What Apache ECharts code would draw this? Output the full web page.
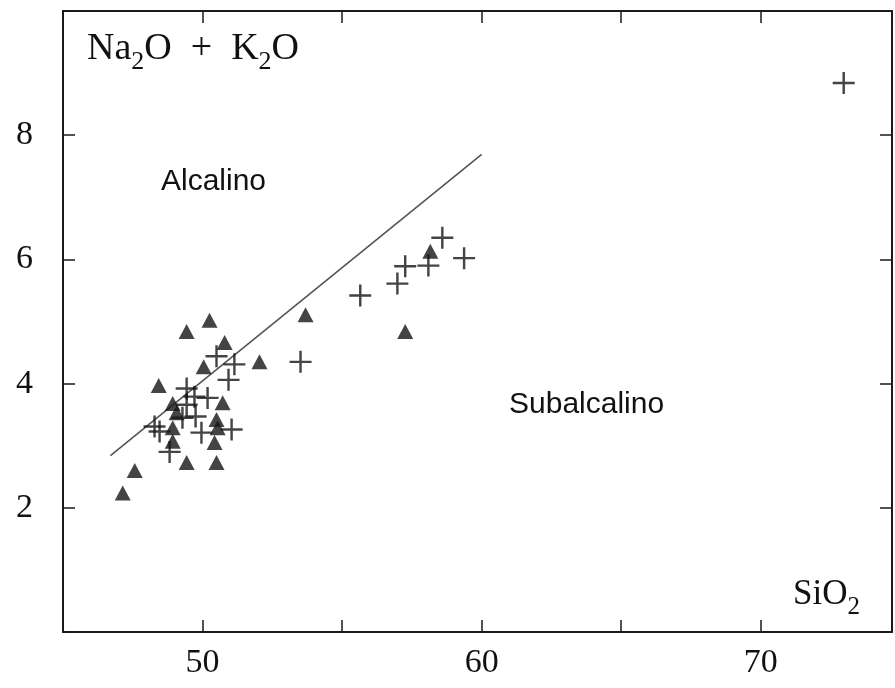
<!DOCTYPE html>
<html>
<head>
<meta charset="utf-8">
<script src="https://cdn.jsdelivr.net/npm/echarts@6/dist/echarts.min.js"></script>
<style>html,body{margin:0;padding:0;background:#fff;}#c{width:895px;height:688px;}</style>
</head>
<body>
<div id="c"></div>
<script>
// SiO2 (wt%), Na2O+K2O (wt%)
const triangles = [
  [47.14, 2.24], [47.57, 2.60], [48.43, 3.97], [48.93, 3.68], [49.07, 3.53],
  [48.93, 3.29], [48.93, 3.07], [49.43, 2.73], [49.43, 4.84], [50.25, 5.02],
  [50.79, 4.66], [50.04, 4.27], [50.72, 3.69], [50.50, 3.42], [50.54, 3.29],
  [50.43, 3.05], [50.50, 2.73], [52.04, 4.35], [53.69, 5.11], [57.26, 4.84],
  [58.16, 6.13]
];
const crosses = [
  [72.97, 8.84], [58.59, 6.35], [59.37, 6.02], [57.26, 5.89], [58.09, 5.90],
  [56.98, 5.61], [55.65, 5.42], [53.51, 4.35], [50.50, 4.44], [51.14, 4.31],
  [50.93, 4.06], [49.43, 3.92], [50.18, 3.77], [49.71, 3.79], [49.43, 3.66],
  [49.75, 3.47], [49.28, 3.45], [48.28, 3.31], [48.46, 3.23], [49.96, 3.21],
  [51.04, 3.26], [48.82, 2.90]
];
const divider = [[46.7, 2.84], [60.0, 7.69]];
const xTickLabels = [50, 60, 70];
const yTickLabels = [2, 4, 6, 8];

const serif = '"Liberation Serif", "DejaVu Serif", serif';
const sans = '"Liberation Sans", Arial, sans-serif';
const chart = echarts.init(document.getElementById('c'));
const axisCommon = {
  type: 'value',
  splitLine: { show: false },
  axisLine: { show: true, onZero: false, lineStyle: { color: '#1a1a1a', width: 2 } },
  axisTick: { show: true, inside: true, length: 12, lineStyle: { color: '#1a1a1a', width: 1.5 } }
};
chart.setOption({
  animation: false,
  backgroundColor: '#fff',
  grid: { left: 63, right: 2, top: 11, bottom: 56 },
  xAxis: [
    Object.assign({}, axisCommon, {
      position: 'bottom', min: 45, max: 74.7, interval: 5,
      axisLabel: { margin: 14, fontFamily: serif, fontSize: 34, color: '#111',
        formatter: v => xTickLabels.includes(v) ? String(v) : '' }
    }),
    Object.assign({}, axisCommon, {
      position: 'top', min: 45, max: 74.7, interval: 5,
      axisLabel: { show: false }
    })
  ],
  yAxis: [
    Object.assign({}, axisCommon, {
      position: 'left', min: 0, max: 10, interval: 2,
      axisLabel: { margin: 30, fontFamily: serif, fontSize: 34, color: '#111',
        formatter: v => yTickLabels.includes(v) ? String(v) : '' }
    }),
    Object.assign({}, axisCommon, {
      position: 'right', min: 0, max: 10, interval: 2,
      axisLabel: { show: false }
    })
  ],
  series: [
    {
      type: 'line', data: divider, symbol: 'none',
      lineStyle: { color: '#555', width: 1.6 }, z: 1
    },
    {
      type: 'scatter', data: triangles, symbol: 'triangle', symbolSize: [16, 15],
      itemStyle: { color: '#151515' }, z: 3
    },
    {
      type: 'scatter', data: crosses,
      symbol: 'path://M0,8.9L20,8.9L20,11.1L0,11.1Z M8.9,0L11.1,0L11.1,20L8.9,20Z',
      symbolSize: 22, itemStyle: { color: '#151515' }, z: 4
    }
  ],
  graphic: [
    {
      type: 'text', left: 87, top: 30,
      style: {
        text: '{n|Na}{s|2}{n|O  +  K}{s|2}{n|O}',
        rich: {
          n: { fontFamily: serif, fontSize: 38, fill: '#111', lineHeight: 40, verticalAlign: 'top' },
          s: { fontFamily: serif, fontSize: 26, fill: '#111', lineHeight: 40, verticalAlign: 'top', padding: [19, 0, 0, 0] }
        }
      }
    },
    {
      type: 'text', left: 793, top: 577,
      style: {
        text: '{n|SiO}{s|2}',
        rich: {
          n: { fontFamily: serif, fontSize: 35, fill: '#111', lineHeight: 40, verticalAlign: 'top' },
          s: { fontFamily: serif, fontSize: 25, fill: '#111', lineHeight: 40, verticalAlign: 'top', padding: [18, 0, 0, 0] }
        }
      }
    },
    {
      type: 'text', left: 161, top: 167,
      style: { text: 'Alcalino', fontFamily: sans, fontSize: 30, fill: '#111' }
    },
    {
      type: 'text', left: 509, top: 390,
      style: { text: 'Subalcalino', fontFamily: sans, fontSize: 30, fill: '#111' }
    }
  ]
});
</script>
</body>
</html>
